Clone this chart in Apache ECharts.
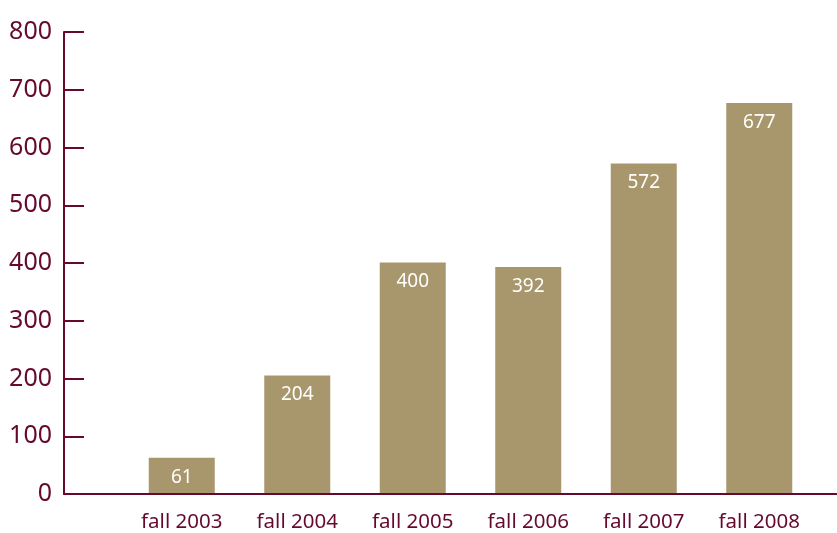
<!DOCTYPE html>
<html>
<head>
<meta charset="utf-8">
<script src="https://cdn.jsdelivr.net/npm/echarts@6/dist/echarts.min.js"></script>
<style>
  html, body { margin: 0; padding: 0; background: #fff; }
  #chart { width: 837px; height: 533px; }
</style>
</head>
<body>
<div id="chart"></div>
<script>
var categories = ['fall 2003', 'fall 2004', 'fall 2005', 'fall 2006', 'fall 2007', 'fall 2008'];
var values = [61, 204, 400, 392, 572, 677];
var yTicks = [0, 100, 200, 300, 400, 500, 600, 700, 800];

var maroon = '#650a2e';
var barColor = '#a8976c';
var font = '"Noto Sans", "Open Sans", sans-serif';

var chart = echarts.init(document.getElementById('chart'));
chart.setOption({
	animation: false,
	grid: [
		// axis frame
		{ left: 64, right: 0, top: 32, bottom: 39 },
		// bars
		{ left: 124, right: 20, top: 32, bottom: 39 }
	],
	xAxis: [
		{
			gridIndex: 0,
			type: 'value',
			min: 0,
			max: 1,
			axisLine: { show: true, onZero: false, lineStyle: { color: maroon, width: 2 } },
			axisTick: { show: false },
			axisLabel: { show: false },
			splitLine: { show: false }
		},
		{
			gridIndex: 1,
			type: 'category',
			data: categories,
			axisLine: { show: false },
			axisTick: { show: false },
			axisLabel: {
				color: maroon,
				fontFamily: font,
				fontSize: 20.5,
				margin: 19
			}
		}
	],
	yAxis: [
		{
			gridIndex: 0,
			type: 'value',
			min: yTicks[0],
			max: yTicks[yTicks.length - 1],
			interval: 100,
			axisLine: { show: true, lineStyle: { color: maroon, width: 2 } },
			axisTick: { show: true, inside: true, length: 20, lineStyle: { color: maroon, width: 2 } },
			axisLabel: {
				color: maroon,
				fontFamily: font,
				fontSize: 25,
				margin: 12,
				padding: [0, 0, 8, 0]
			},
			splitLine: { show: false }
		},
		{
			gridIndex: 1,
			type: 'value',
			min: yTicks[0],
			max: yTicks[yTicks.length - 1],
			interval: 100,
			show: false
		}
	],
	series: [
		{
			type: 'bar',
			xAxisIndex: 1,
			yAxisIndex: 1,
			data: values,
			barWidth: 66,
			itemStyle: { color: barColor },
			label: {
				show: true,
				position: 'insideTop',
				distance: 10,
				color: '#fff',
				fontFamily: font,
				fontSize: 19
			}
		}
	]
});
</script>
</body>
</html>
